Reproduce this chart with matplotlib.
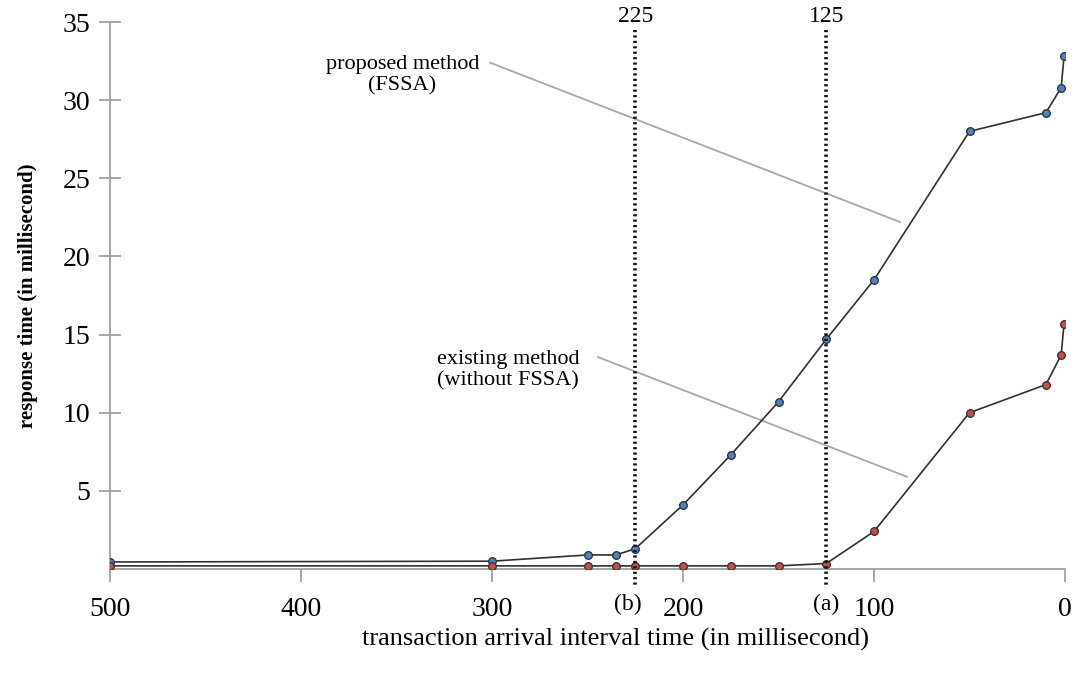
import matplotlib
matplotlib.use("Agg")
import matplotlib.pyplot as plt
import matplotlib.transforms as mtransforms

plt.rcParams['font.family'] = ['Liberation Serif', 'DejaVu Serif']

# ---- data ----
interval = [500, 300, 250, 235, 225, 200, 175, 150, 125, 100, 50, 10, 2, 0.5]
fssa = [0.45, 0.5, 0.9, 0.9, 1.3, 4.1, 7.3, 10.7, 14.7, 18.5, 28.0, 29.2, 30.8, 32.8]
existing = [0.2, 0.2, 0.2, 0.2, 0.2, 0.2, 0.2, 0.2, 0.35, 2.4, 10.0, 11.8, 13.7, 15.7]
x_ticks = [500, 400, 300, 200, 100, 0]
y_ticks = [5, 10, 15, 20, 25, 30, 35]
markers_v = [225, 125]
markers_v_labels = ['225', '125']
markers_b = [229, 125]
markers_b_labels = ['(b)', '(a)']

W, H = 1076, 674
fig = plt.figure(figsize=(W / 100, H / 100), dpi=100)
ax = fig.add_axes([110 / W, 1 - 569 / H, (1065 - 110) / W, (569 - 22) / H])

ax.set_xlim(500, 0)
ax.set_ylim(0, 35)

ax.plot(interval, fssa, color='#303030', lw=1.2, marker='o', ms=5.5,
        mfc='#4f81bd', mec='#2a2a3a', mew=0.9, zorder=4)
ax.plot(interval, existing, color='#303030', lw=1.2, marker='o', ms=5.5,
        mfc='#c0504d', mec='#3a2a2a', mew=0.9, zorder=4)

# dotted verticals
for xv, lab in zip(markers_v, markers_v_labels):
    ax.plot([xv, xv], [34.5, -1.2], color='#111111', lw=2.6,
            linestyle=(0, (0.6, 0.9)), clip_on=False, zorder=5)
    ax.text(xv, 35.35, lab, ha='center', va='center', fontsize=17, clip_on=False)

trans = mtransforms.blended_transform_factory(ax.transData, ax.transAxes)
for xb, lab in zip(markers_b, markers_b_labels):
    ax.text(xb, -0.064, lab, transform=trans, ha='center', va='center', fontsize=17)

# callouts
ax.plot([301, 86.4], [32.4, 22.2], color='#a8a8a8', lw=1.3, zorder=2)
ax.plot([244.5, 82.7], [13.56, 5.9], color='#a8a8a8', lw=1.3, zorder=2)
ax.text(347, 31.6, 'proposed method\n(FSSA)', ha='center', va='center',
        multialignment='center', fontsize=16, linespacing=1.15)
ax.text(329, 12.7, 'existing method\n(without FSSA)', ha='left', va='center',
        multialignment='left', fontsize=16, linespacing=1.15)

ax.set_xticks(x_ticks)
ax.set_xticklabels([str(v) for v in x_ticks], fontsize=20)
ax.set_yticks(y_ticks)
ax.set_yticklabels([str(v) for v in y_ticks], fontsize=20)
ax.tick_params(axis='x', direction='out', length=9, width=1.3, color='#a0a0a0', pad=11)
ax.tick_params(axis='y', direction='inout', length=16, width=1.3, color='#a0a0a0', pad=6)

for s in ['top', 'right']:
    ax.spines[s].set_visible(False)
for s in ['left', 'bottom']:
    ax.spines[s].set_color('#a0a0a0')
    ax.spines[s].set_linewidth(1.3)

ax.set_ylabel('response time (in millisecond)', fontsize=15, fontweight='bold', labelpad=18)
ax.set_xlabel('transaction arrival interval time (in millisecond)', fontsize=19)
ax.xaxis.set_label_coords((615 - 110) / 955, -(628 - 569) / 547)

fig.savefig('out.png', dpi=100)
